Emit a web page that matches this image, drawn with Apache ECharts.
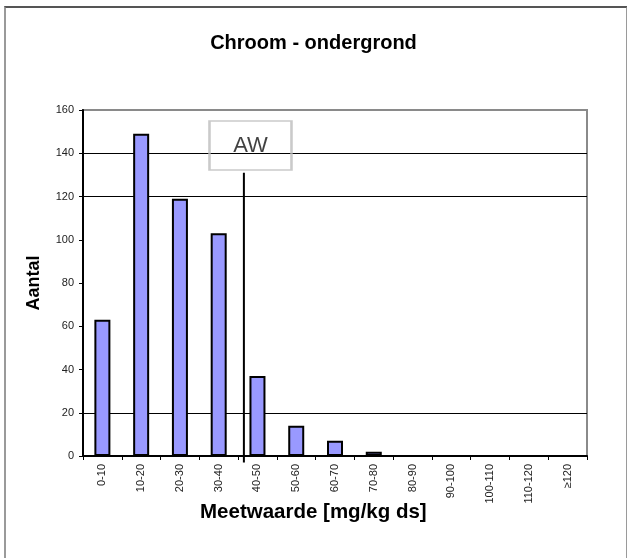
<!DOCTYPE html>
<html><head><meta charset="utf-8">
<script src="https://cdn.jsdelivr.net/npm/echarts@6/dist/echarts.min.js"></script>
<style>
html,body{margin:0;padding:0;background:#fff;}
#wrap{position:relative;width:627px;height:558px;overflow:hidden;}
#frame{position:absolute;left:4px;top:6px;width:620px;height:560px;border-left:2px solid #9a9a9a;border-top:2px solid #555;border-right:2px solid #9a9a9a;}
#c{position:absolute;left:0;top:0;width:627px;height:558px;}
</style></head>
<body><div id="wrap"><div id="frame"></div><div id="c"></div></div>
<script>
const categories = ["0-10","10-20","20-30","30-40","40-50","50-60","60-70","70-80","80-90","90-100","100-110","110-120","\u2265120"];
const counts = [63,149,119,103,37,14,7,2,0,0,0,0,0];
const yTicks = [0,20,40,60,80,100,120,140,160];
const gridLineValues = [20,120,140];
const awValue = 41.5;
const awLineTop = 131;
const awLabelPos = [43.2,143.6];
const xAxisTitle = 'Meetwaarde [mg/kg ds]';

const chart = echarts.init(document.getElementById('c'), null, {renderer:'canvas'});
chart.setOption({
  animation:false,
  backgroundColor:'transparent',
  title:[{text:'Chroom - ondergrond',left:'center',top:28,
    textStyle:{fontFamily:'Liberation Sans, Arial',fontSize:20,fontWeight:'bold',color:'#000'}},
    {text:xAxisTitle,left:195,top:497,
    textStyle:{fontFamily:'Liberation Sans, Arial',fontSize:20.5,fontWeight:'bold',color:'#000'}}],
  grid:{left:83,right:40,top:110,bottom:102,show:true,borderColor:'#8a8a8a',borderWidth:2,backgroundColor:'transparent'},
  xAxis:[{
    type:'category',data:categories,
    axisLine:{lineStyle:{color:'#000',width:2}},
    axisTick:{show:true,length:4,lineStyle:{color:'#000'}},
    axisLabel:{rotate:90,fontSize:11,color:'#222',fontFamily:'Liberation Sans, Arial',margin:8,interval:0}
  },{
    type:'value',min:0,max:categories.length*10,show:false
  }],
  yAxis:{
    type:'value',min:yTicks[0],max:yTicks[yTicks.length-1],interval:20,
    axisLine:{show:true,lineStyle:{color:'#000',width:2}},
    axisTick:{show:true,length:4,lineStyle:{color:'#000'}},
    splitLine:{show:false},
    axisLabel:{fontSize:11,color:'#222',fontFamily:'Liberation Sans, Arial',margin:9},
    name:'Aantal',nameLocation:'middle',nameGap:40,
    nameTextStyle:{fontFamily:'Liberation Sans, Arial',fontSize:18,fontWeight:'bold',color:'#000'}
  },
  series:[{
    type:'bar',data:counts,barWidth:16,z:3,
    itemStyle:{color:'#9999ff',borderColor:'#000',borderWidth:2},
    markLine:{silent:true,symbol:'none',label:{show:false},z:2,
      lineStyle:{color:'#000',width:1,type:'solid'},
      data:gridLineValues.map(v=>({yAxis:v}))}
  },{
    type:'line',xAxisIndex:1,clip:false,symbol:'none',z:4,
    lineStyle:{color:'#000',width:2},
    data:[[awValue,awLineTop],[awValue,-3]]
  },{
    type:'scatter',xAxisIndex:1,z:5,
    symbol:'rect',symbolSize:[82,49],
    itemStyle:{color:'rgba(255,255,255,0)',borderColor:'#bdbdbd',borderWidth:2},
    label:{show:true,position:'inside',formatter:'AW',fontSize:22,color:'#111',fontFamily:'Liberation Sans, Arial'},
    data:[awLabelPos]
  }]
});
</script></body></html>
